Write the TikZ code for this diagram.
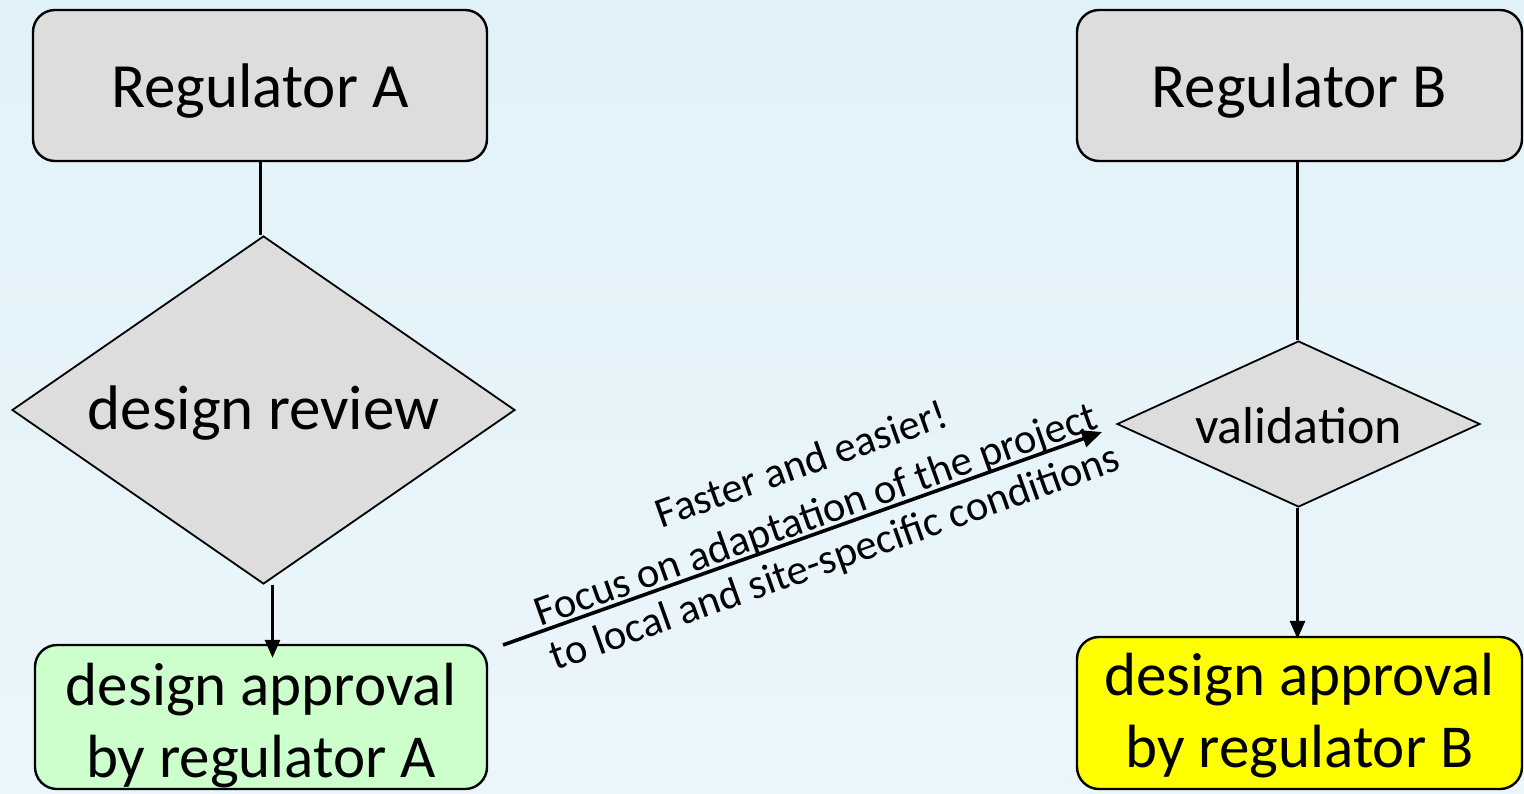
\documentclass[tikz,border=0pt]{standalone}
\usepackage{fontspec}
\setmainfont{Carlito}
\usetikzlibrary{shapes.geometric,arrows.meta,calc}
\definecolor{boxgrey}{HTML}{DDDDDD}
\definecolor{boxgreen}{HTML}{CCFFCC}
\definecolor{boxyellow}{HTML}{FFFF00}
\definecolor{bgtop}{HTML}{E1F2F8}
\definecolor{bgbot}{HTML}{EBF6FC}
\tikzset{
  rbox/.style={draw=black, line width=2.4pt, rounded corners=22pt, inner sep=0pt},
  dia/.style={draw=black, line width=1.8pt, diamond, fill=boxgrey, inner sep=0pt},
  conn/.style={draw=black, line width=3pt},
  arr/.style={draw=black, line width=3pt, -{Triangle[length=18pt,width=15pt]}},
  darr/.style={draw=black, line width=3.6pt, -{Triangle[length=20pt,width=17pt]}},
  txt/.style={text=black, inner sep=0pt, anchor=base},
  big/.style={txt, font=\fontsize{63}{72}\selectfont},
  mid/.style={txt, font=\fontsize{61}{72}\selectfont},
  small/.style={txt, font=\fontsize{42.5}{48}\selectfont},
}
\begin{document}
\begin{tikzpicture}[x=1pt,y=-1pt]
\shade[top color=bgtop, bottom color=bgbot] (0,0) rectangle (1524,793);
\useasboundingbox (0,0) rectangle (1524,793);

\node[rbox, fill=boxgrey, minimum width=454pt, minimum height=151pt] (regA) at (260,85.5) {};
\node[big] (lRA) at ([yshift=-22pt]regA.center) {Regulator A};
\node[rbox, fill=boxgrey, minimum width=445pt, minimum height=151pt] (regB) at (1299.5,85.5) {};
\node[big] (lRB) at ([yshift=-22pt]regB.center) {Regulator B};

\node[dia, minimum width=503pt, minimum height=348pt] (dA) at (263.5,410) {};
\node[big] (lDA) at ([yshift=-19pt]dA.center) {design review};
\node[dia, minimum width=363pt, minimum height=166pt] (dB) at (1298.5,424) {};
\node[txt, font=\fontsize{52}{60}\selectfont] (lDB) at ([yshift=-19pt]dB.center) {validation};

\node[rbox, fill=boxgreen, minimum width=452pt, minimum height=144pt] (apA) at (261,717) {};
\node[mid] (lA1) at ([yshift=12pt]apA.center) {design approval};
\node[mid] (lA2) at ([yshift=-60pt]apA.center) {by regulator A};
\node[rbox, fill=boxyellow, minimum width=445pt, minimum height=152pt] (apB) at (1299.5,713) {};
\node[mid] (lB1) at ([yshift=18pt]apB.center) {design approval};
\node[mid] (lB2) at ([yshift=-54pt]apB.center) {by regulator B};

\draw[conn] (regA.south) -- (regA.south |- dA.north);
\draw[arr, shorten >=-14pt] ([xshift=9pt]dA.south) -- ([xshift=9pt]dA.south |- apA.north);
\draw[conn] ([xshift=-2pt]regB.south) -- ([xshift=-2pt]regB.south |- dB.north);
\draw[arr, shorten >=-3pt] ([xshift=-1pt]dB.south) -- ([xshift=-1pt]dB.south |- apB.north);

\coordinate (s) at (503,645);
\draw[darr] (s) -- ($(dB.west)+(-14,8)$)
  node[pos=0.538, sloped, small, yshift=57pt] (t1) {Faster and easier!}
  node[pos=0.532, sloped, small, yshift=5pt] (t2) {Focus on adaptation of the project}
  node[pos=0.538, sloped, small, yshift=-42pt] (t3) {to local and site-specific conditions};
\end{tikzpicture}
\end{document}
